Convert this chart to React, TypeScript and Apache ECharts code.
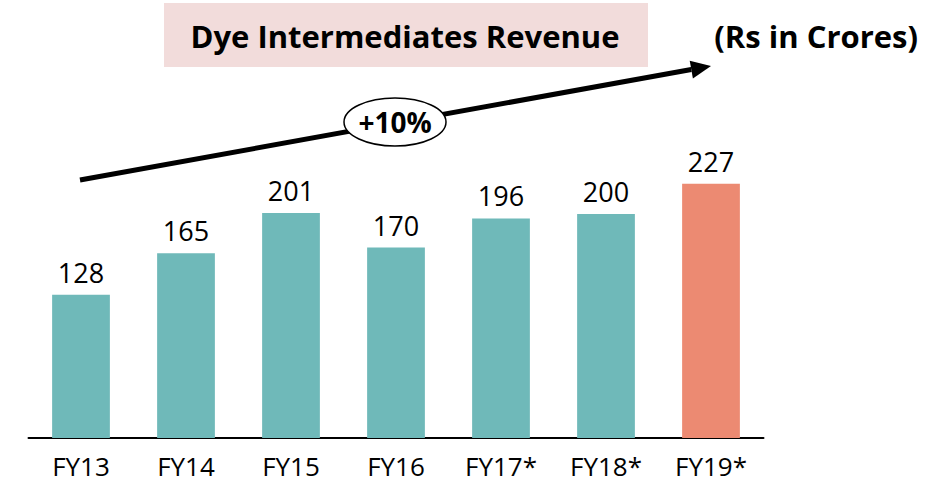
import React, { useEffect, useRef } from "react";
import * as echarts from "echarts";

const categories = ["FY13", "FY14", "FY15", "FY16", "FY17*", "FY18*", "FY19*"];
const revenue = [128, 165, 201, 170, 196, 200, 227];
const barColors = ["#6FB9B9", "#6FB9B9", "#6FB9B9", "#6FB9B9", "#6FB9B9", "#6FB9B9", "#EC8A72"];
const titleText = "Dye Intermediates Revenue";
const unitText = "(Rs in Crores)";
const cagrText = "+10%";

const FONT = "'Open Sans', sans-serif";

export default function App() {
  const ref = useRef<HTMLDivElement>(null);
  useEffect(() => {
    document.body.style.margin = "0";
    if (!ref.current) return;
    const chart = echarts.init(ref.current, null, { renderer: "svg" });
    const tip = [711, 66];
    const ux = 0.984, uy = -0.1766;
    const nx = 0.1766, ny = 0.984;
    const headLen = 20, headHalf = 9;
    const bx = tip[0] - headLen * ux, by = tip[1] - headLen * uy;
    chart.setOption({
      animation: false,
      grid: { left: 28.5, right: 164.5, top: 158, bottom: 50, containLabel: false },
      xAxis: {
        type: "category",
        data: categories,
        axisLine: { lineStyle: { color: "#000", width: 2 } },
        axisTick: { show: false },
        axisLabel: { color: "#000", fontFamily: FONT, fontSize: 26, margin: 15 },
      },
      yAxis: {
        type: "value",
        min: 0,
        max: 250,
        show: false,
        splitLine: { show: false },
      },
      series: [
        {
          type: "bar",
          data: revenue.map((v, i) => ({ value: v, itemStyle: { color: barColors[i] } })),
          barWidth: "55%",
          label: {
            show: true,
            position: "top",
            distance: 9,
            color: "#000",
            fontFamily: FONT,
            fontSize: 27,
          },
        },
      ],
      graphic: [
        {
          type: "rect",
          shape: { x: 164, y: 3, width: 484, height: 64 },
          style: { fill: "#F2DCDB" },
        },
        {
          type: "text",
          x: 405,
          y: 36,
          style: {
            text: titleText,
            fontFamily: FONT,
            fontWeight: "bold",
            fontSize: 31,
            fill: "#000",
            textAlign: "center",
            textVerticalAlign: "middle",
          },
        },
        {
          type: "text",
          x: 918,
          y: 36,
          style: {
            text: unitText,
            fontFamily: FONT,
            fontWeight: "bold",
            fontSize: 31,
            fill: "#000",
            textAlign: "right",
            textVerticalAlign: "middle",
          },
        },
        {
          type: "line",
          shape: { x1: 80, y1: 180, x2: bx, y2: by },
          style: { stroke: "#000", lineWidth: 5 },
        },
        {
          type: "polygon",
          shape: {
            points: [
              tip,
              [bx + headHalf * nx, by + headHalf * ny],
              [bx - headHalf * nx, by - headHalf * ny],
            ],
          },
          style: { fill: "#000" },
        },
        {
          type: "ellipse",
          shape: { cx: 395, cy: 122, rx: 51, ry: 24 },
          style: { fill: "#fff", stroke: "#000", lineWidth: 1.5 },
          z: 10,
        },
        {
          type: "text",
          x: 395,
          y: 122,
          z: 11,
          style: {
            text: cagrText,
            fontFamily: FONT,
            fontWeight: "bold",
            fontSize: 28,
            fill: "#000",
            textAlign: "center",
            textVerticalAlign: "middle",
          },
        },
      ],
    });
    return () => chart.dispose();
  }, []);
  return <div ref={ref} style={{ width: 928, height: 488 }} />;
}
